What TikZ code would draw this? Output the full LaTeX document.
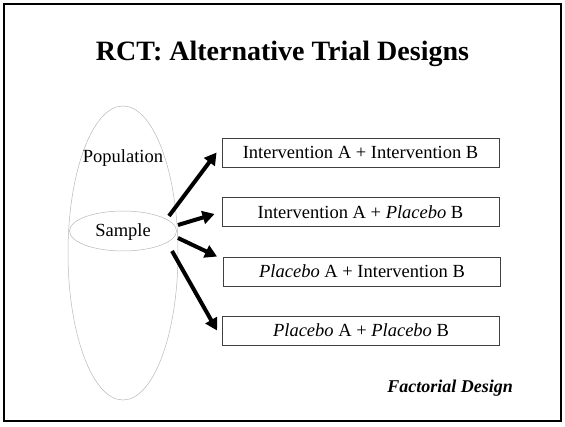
\documentclass[tikz,border=0pt]{standalone}
\usepackage{fontspec}
\setmainfont{Liberation Serif}
\usetikzlibrary{arrows.meta,shapes.geometric}
\begin{document}
\begin{tikzpicture}[x=1pt,y=-1pt,
  ell/.style={draw=black!28,line width=0.5pt,ellipse,inner sep=0pt},
  armbox/.style={draw=black!75,line width=0.9pt,minimum width=277pt,minimum height=29pt,inner sep=0pt,font=\fontsize{18.5}{22}\selectfont},
  arm/.style={line width=4pt,-{Triangle[length=12pt,width=13pt]}},
  lbl/.style={font=\fontsize{18.5}{22}\selectfont,inner sep=0pt}]
\useasboundingbox (0,0) rectangle (565,427);
\draw[line width=2pt] (4,4) rectangle (561,421);
\node[font=\bfseries\fontsize{28}{32}\selectfont] (title) at (282.5,54) {RCT: Alternative Trial Designs};
\node[ell,minimum width=110pt,minimum height=294pt] (pop) at (123,253) {};
\node[ell,minimum width=107pt,minimum height=40pt] (sample) at (123,231) {};
\node[lbl] (poptxt) at (123,158) {Population};
\node[lbl] (samptxt) at (123,232) {Sample};
\node[armbox] (b1) at (360.5,152.5) {Intervention A + Intervention B};
\node[armbox] (b2) at (360.5,212) {Intervention A + \textit{Placebo} B};
\node[armbox] (b3) at (362,271.5) {\textit{Placebo} A + Intervention B};
\node[armbox] (b4) at (361,330.5) {\textit{Placebo} A + \textit{Placebo} B};
\node[font=\bfseries\itshape\fontsize{18}{21}\selectfont,anchor=east,inner sep=0pt] (fd) at (513,388) {Factorial Design};
\coordinate (s1) at (169,216);
\coordinate (s2) at (178,225);
\coordinate (s3) at (178,238);
\coordinate (s4) at (172,251);
\draw[arm] (s1) -- ([xshift=-5pt,yshift=0pt]b1.west);
\draw[arm] (s2) -- ([xshift=-7pt,yshift=-2pt]b2.west);
\draw[arm] (s3) -- ([xshift=-6pt]b3.north west);
\draw[arm] (s4) -- ([xshift=-5pt]b4.west);
\end{tikzpicture}
\end{document}
